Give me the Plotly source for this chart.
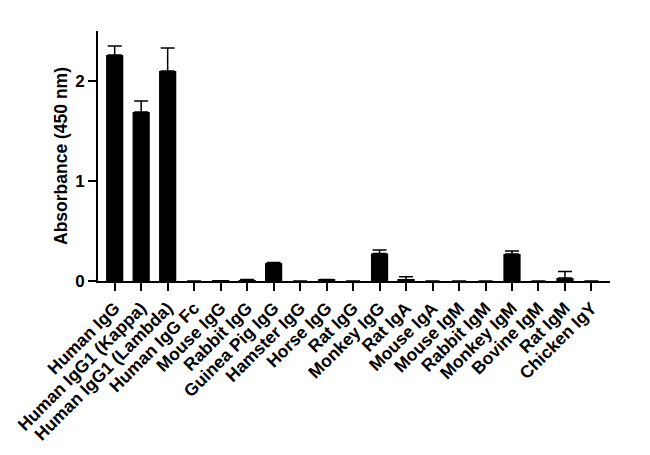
import plotly.graph_objects as go

categories = ["Human IgG", "Human IgG1 (Kappa)", "Human IgG1 (Lambda)", "Human IgG Fc",
              "Mouse IgG", "Rabbit IgG", "Guinea Pig IgG", "Hamster IgG", "Horse IgG",
              "Rat IgG", "Monkey IgG", "Rat IgA", "Mouse IgA", "Mouse IgM", "Rabbit IgM",
              "Monkey IgM", "Bovine IgM", "Rat IgM", "Chicken IgY"]
values = [2.26, 1.69, 2.10, 0.0, 0.003, 0.01, 0.18, 0.0, 0.012, 0.0, 0.275, 0.012,
          0.0, 0.0, 0.0, 0.27, 0.0, 0.03, 0.0]
errors = [0.09, 0.11, 0.23, 0.0, 0.0, 0.005, 0.005, 0.0, 0.004, 0.0, 0.035, 0.03,
          0.0, 0.0, 0.0, 0.03, 0.0, 0.065, 0.0]
y_ticks = [0, 1, 2]

font = "Liberation Sans, Arial, sans-serif"

fig = go.Figure(go.Bar(
    x=categories, y=values, width=0.65,
    marker=dict(color="black", line=dict(width=0)),
    error_y=dict(type="data", symmetric=False, array=errors,
                 arrayminus=[0] * len(errors), color="black",
                 thickness=1.5, width=7),
))

fig.update_layout(
    width=650, height=455,
    margin=dict(l=90, r=48, t=23, b=182),
    plot_bgcolor="white", paper_bgcolor="white",
    showlegend=False,
    font=dict(family=font, color="black"),
)
fig.update_xaxes(
    range=[-0.63, 18.7], showline=True, linecolor="black", linewidth=2,
    ticks="outside", ticklen=8, tickwidth=2, tickcolor="black",
    tickangle=-45, tickfont=dict(size=17.5, family=font, weight="bold"),
    showgrid=False, zeroline=False, automargin=False,
)
fig.update_yaxes(
    range=[0, 2.5], showline=True, linecolor="black", linewidth=2,
    ticks="outside", ticklen=8, tickwidth=2, tickcolor="black",
    tickvals=y_ticks, tickfont=dict(size=17, family=font, weight="bold"),
    title=dict(text="Absorbance (450 nm)", font=dict(size=17.5, family=font, weight="bold"),
               standoff=3),
    showgrid=False, zeroline=False, automargin=False,
)

fig.write_html("out.html")
